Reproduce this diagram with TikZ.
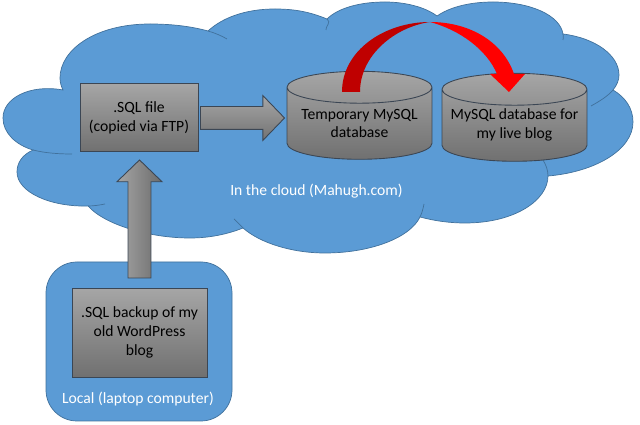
\documentclass[tikz,border=0pt]{standalone}
\usepackage{fontspec}
\setmainfont{Carlito}
\usetikzlibrary{shapes.geometric,shapes.arrows}
\definecolor{cloudblue}{HTML}{5B9BD5}
\definecolor{cloudline}{HTML}{41719C}
\definecolor{boxline}{HTML}{3B4654}
\begin{document}
\begin{tikzpicture}[
    x=0.02cm,y=-0.02cm,
    txt/.style={font=\fontsize{8.9}{10.8}\selectfont,align=center},
    lbl/.style={txt,text=white},
    cloudfill/.style={fill=cloudblue,draw=cloudline,line width=0.4pt},
    cloudedge/.style={draw=cloudline,line width=0.4pt},
    grey/.style={top color=black!35,bottom color=black!56,draw=boxline,line width=0.5pt},
    filebox/.style={grey,rectangle,txt,inner sep=0pt},
    dbase/.style={grey,cylinder,shape border rotate=90,shape aspect=0.22,inner sep=0pt,
      text width=2.9cm,minimum width=2.9cm,minimum height=1.76cm},
    blockarrow/.style={draw=boxline,line width=0.5pt,single arrow,inner sep=0.22cm,
      single arrow head indent=0pt,single arrow head extend=0.22cm,single arrow tip angle=92},
  ]
  \useasboundingbox (0,0) rectangle (640,425);

  % cloud
  \draw[cloudfill] (63,90) .. controls (30,84) and (3,98) .. (3,118)
    .. controls (3,133) and (16,145) .. (33,150)
    .. controls (22,155) and (17,163) .. (17,172)
    .. controls (17,192) and (50,207) .. (88,206)
    .. controls (105,225) and (150,238) .. (190,238)
    .. controls (210,238) and (228,234) .. (243,228)
    .. controls (260,243) and (292,253) .. (325,253)
    .. controls (370,253) and (410,238) .. (420,217)
    .. controls (435,221) and (450,223) .. (465,223)
    .. controls (515,223) and (548,200) .. (548,176)
    .. controls (595,172) and (633,150) .. (633,122)
    .. controls (633,108) and (625,97) .. (613,90)
    .. controls (617,85) and (619,80) .. (619,75)
    .. controls (619,55) and (595,38) .. (563,34)
    .. controls (560,15) and (530,2) .. (493,2)
    .. controls (470,2) and (450,7) .. (437,16)
    .. controls (425,7) and (405,2) .. (385,2)
    .. controls (360,2) and (338,8) .. (327,19)
    .. controls (310,12) and (295,9) .. (275,9)
    .. controls (245,9) and (222,18) .. (208,31)
    .. controls (190,26) and (170,24) .. (150,24)
    .. controls (95,24) and (60,50) .. (60,78)
    .. controls (60,82) and (61,86) .. (63,90) -- cycle;
  \draw[cloudedge] (208,31) .. controls (215,33) and (222,36) .. (227,39);
  \draw[cloudedge] (327,19) .. controls (332,22) and (325,27) .. (326,30);
  \draw[cloudedge] (33,150) .. controls (45,153) and (58,154) .. (72,154);
  \draw[cloudedge] (88,206) .. controls (94,206) and (100,205) .. (105,204);
  \draw[cloudedge] (243,228) .. controls (240,225) and (237,222) .. (234,219);
  \draw[cloudedge] (420,217) .. controls (422,213) and (423,209) .. (424,204);
  \draw[cloudedge] (548,176) .. controls (548,170) and (546,165) .. (543,160);
  \draw[cloudedge] (613,90) .. controls (608,96) and (600,101) .. (591,106);
  \draw[cloudedge] (563,34) .. controls (564,36) and (563,38) .. (563,40);

  % local computer
  \draw[cloudfill,rounded corners=0.62cm] (46,262) rectangle (232,421);

  % boxes and cylinders
  \node[filebox,minimum width=2.36cm,minimum height=1.36cm] (sqlfile) at (139,117.5)
    {.SQL file\\(copied via FTP)};
  \node[filebox,minimum width=2.7cm,minimum height=1.78cm] (backup) at (139.5,332.5)
    {.SQL backup of my\\old WordPress\\blog};
  \node[dbase] (tempdb) at (359.5,123.5) {};
  \node[dbase] (livedb) at (514.5,125.5) {};
  \node[txt] (templabel) at (359.5,123.5) {Temporary MySQL\\database};
  \node[txt] (livelabel) at (514.5,124.5) {MySQL database for\\my live blog};

  % block arrows
  \node[blockarrow,top color=black!35,bottom color=black!55,minimum height=1.68cm,
    minimum width=0.88cm] (copyarrow) at (237,118) {};
  \node[blockarrow,left color=black!35,right color=black!58,shape border rotate=90,
    minimum height=2.36cm,minimum width=0.9cm] (uparrow) at (139.5,224.5) {};

  % red arrow
  \fill[red!75!black] (342,92) .. controls (342,50) and (385,22) .. (430,22)
    .. controls (395,27) and (360,55) .. (360,92) -- cycle;
  \fill[red] (430,22) .. controls (470,22) and (503,42) .. (514,74) -- (525,74) -- (509,92)
    -- (490,74) -- (497,74) .. controls (487,50) and (460,30) .. (430,22) -- cycle;

  % labels
  \node[lbl] (cloudlabel) at (316.5,191) {In the cloud (Mahugh.com)};
  \node[lbl] (locallabel) at (138,399) {Local (laptop computer)};
\end{tikzpicture}
\end{document}
